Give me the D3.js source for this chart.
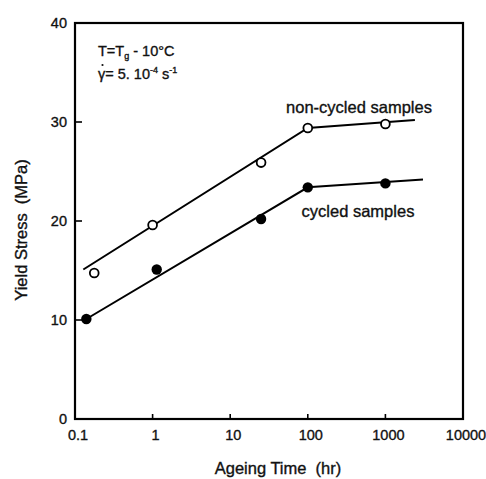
<!DOCTYPE html>
<html>
<head>
<meta charset="utf-8">
<script src="https://cdn.jsdelivr.net/npm/d3@7"></script>
<style>
  html, body { margin: 0; padding: 0; background: #fff; }
  text { font-family: Arial, "Liberation Sans", sans-serif; fill: #111; stroke: #111; stroke-width: 0.35px; }
</style>
</head>
<body>
<svg id="chart" width="486" height="479"></svg>
<script>
// Ageing time (hr) and yield stress (MPa)
const nonCycledTime  = [0.177, 1.0, 25, 100, 1000];
const nonCycledYield = [14.75, 19.6, 25.9, 29.4, 29.8];
const cycledTime     = [0.14, 1.13, 25, 100, 1000];
const cycledYield    = [10.1, 15.1, 20.2, 23.4, 23.8];

// Fitted trend lines (two straight segments on the log axis)
const nonCycledFitTime  = [0.128, 100, 2400];
const nonCycledFitYield = [15.1, 29.4, 30.2];
const cycledFitTime     = [0.14, 100, 3050];
const cycledFitYield    = [10.1, 23.4, 24.2];

const xTicks = [0.1, 1, 10, 100, 1000, 10000];
const xTickLabels = ["0.1", "1", "10", "100", "1000", "10000"];
const yTicks = [0, 10, 20, 30, 40];

const svg = d3.select("#chart");
const plotLeft = 75, plotRight = 463, plotTop = 23, plotBottom = 419;

const x = d3.scaleLog().domain([0.1, 10000]).range([plotLeft, plotRight]);
const y = d3.scaleLinear().domain([0, 40]).range([plotBottom, plotTop]);

// Frame
svg.append("rect")
  .attr("x", plotLeft).attr("y", plotTop)
  .attr("width", plotRight - plotLeft).attr("height", plotBottom - plotTop)
  .attr("fill", "none").attr("stroke", "#000").attr("stroke-width", 2.2);

// Inward ticks on the bottom axis
svg.append("g").selectAll("line")
  .data(xTicks.slice(1, -1)).join("line")
  .attr("x1", d => x(d)).attr("x2", d => x(d))
  .attr("y1", plotBottom).attr("y2", plotBottom - 5)
  .attr("stroke", "#000").attr("stroke-width", 1.6);

svg.append("g").selectAll("text")
  .data(xTicks).join("text")
  .attr("x", d => x(d) + 3).attr("y", plotBottom + 21)
  .attr("text-anchor", "middle").attr("font-size", 14.5)
  .text((d, i) => xTickLabels[i]);

// Inward ticks on the left axis
svg.append("g").selectAll("line")
  .data(yTicks.slice(1, -1)).join("line")
  .attr("x1", plotLeft).attr("x2", plotLeft + 7)
  .attr("y1", d => y(d)).attr("y2", d => y(d))
  .attr("stroke", "#000").attr("stroke-width", 1.6);

svg.append("g").selectAll("text")
  .data(yTicks).join("text")
  .attr("x", plotLeft - 8).attr("y", d => y(d) + 5)
  .attr("text-anchor", "end").attr("font-size", 14.5)
  .text(d => d);

// Axis titles
svg.append("text")
  .attr("x", 278).attr("y", 474)
  .attr("text-anchor", "middle").attr("font-size", 16.5)
  .attr("xml:space", "preserve")
  .text("Ageing Time  (hr)");

svg.append("text")
  .attr("transform", "translate(27,230) rotate(-90)")
  .attr("text-anchor", "middle").attr("font-size", 16.5)
  .attr("xml:space", "preserve")
  .text("Yield Stress  (MPa)");

// Trend lines
const line = d3.line().x(d => x(d[0])).y(d => y(d[1]));
const fits = [
  d3.zip(nonCycledFitTime, nonCycledFitYield),
  d3.zip(cycledFitTime, cycledFitYield)
];
svg.append("g").selectAll("path")
  .data(fits).join("path")
  .attr("d", line)
  .attr("fill", "none").attr("stroke", "#000").attr("stroke-width", 2);

// Markers
svg.append("g").selectAll("circle")
  .data(d3.zip(nonCycledTime, nonCycledYield)).join("circle")
  .attr("cx", d => x(d[0])).attr("cy", d => y(d[1])).attr("r", 4.4)
  .attr("fill", "#fff").attr("stroke", "#000").attr("stroke-width", 1.8);

svg.append("g").selectAll("circle")
  .data(d3.zip(cycledTime, cycledYield)).join("circle")
  .attr("cx", d => x(d[0])).attr("cy", d => y(d[1])).attr("r", 5.2)
  .attr("fill", "#000");

// Series labels
svg.append("text")
  .attr("x", 359).attr("y", 113)
  .attr("text-anchor", "middle").attr("font-size", 16.5)
  .text("non-cycled samples");

svg.append("text")
  .attr("x", 358).attr("y", 217)
  .attr("text-anchor", "middle").attr("font-size", 16.5)
  .text("cycled samples");

// Test conditions
const t1 = svg.append("text").attr("x", 98).attr("y", 56).attr("font-size", 14.5);
t1.append("tspan").text("T=T");
t1.append("tspan").attr("font-size", 9).attr("dy", 3).text("g");
t1.append("tspan").attr("dy", -3).text(" - 10°C");

const t2 = svg.append("text").attr("x", 98).attr("y", 79).attr("font-size", 14.5);
t2.append("tspan").text("γ");
t2.append("tspan").text("= 5. 10");
t2.append("tspan").attr("font-size", 9).attr("dy", -6).text("-4");
t2.append("tspan").attr("dy", 6).text(" s");
t2.append("tspan").attr("font-size", 9).attr("dy", -6).text("-1");
// dot over gamma (rate)
svg.append("circle").attr("cx", 102.5).attr("cy", 65).attr("r", 1.1).attr("fill", "#111");
</script>
</body>
</html>
